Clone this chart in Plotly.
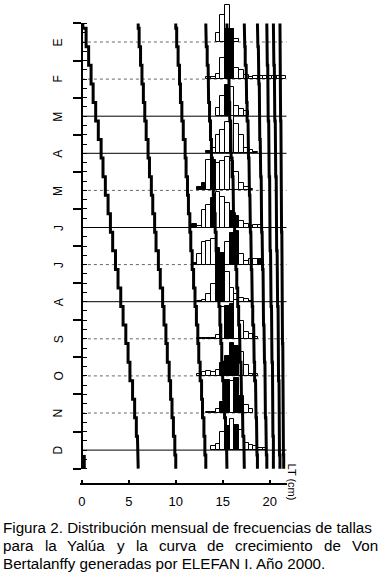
import plotly.graph_objects as go

# ---------------- data ----------------
month_letters = ['E', 'F', 'M', 'A', 'M', 'J', 'J', 'A', 'S', 'O', 'N', 'D']

# length classes (cm, class centres)
length_bins = [12.0, 12.5, 13.0, 13.5, 14.0, 14.5, 15.0, 15.5, 16.0, 16.5,
               17.0, 17.5, 18.0, 18.5, 19.0, 19.5, 20.0, 20.5, 21.0, 21.5]

# relative frequency (height in units of one month slot)
freq_ene = [0, 0, 0, 0, 0, 0.23, 0.73, 1.00, 0.35, 0.07, 0, 0, 0, 0, 0, 0, 0, 0, 0, 0]
freq_feb = [0, 0, 0, 0.05, 0.07, 0.14, 0.57, 1.35, 1.35, 0.31, 0.25, 0.12, 0.07, 0.09, 0.09, 0.09, 0.08, 0.08, 0.08, 0.08]
freq_mar = [0, 0, 0, 0, 0, 0.22, 0.54, 0.83, 0.80, 0.27, 0.20, 0.15, 0, 0, 0, 0, 0, 0, 0, 0]
freq_abr = [0, 0, 0, 0.06, 0.15, 0.50, 0.62, 0.85, 1.00, 0.80, 0.50, 0.15, 0.10, 0.04, 0, 0, 0, 0, 0, 0]
freq_may = [0, 0.08, 0.19, 0.82, 0.82, 0.75, 0.78, 0.90, 0.80, 0.50, 0.19, 0.10, 0.05, 0, 0, 0, 0, 0, 0, 0]
freq_jun = [0.10, 0.03, 0.48, 0.60, 0.80, 0.95, 0.82, 0.65, 0.45, 0.32, 0.18, 0.10, 0.03, 0.08, 0.07, 0, 0, 0, 0, 0]
freq_jul = [0.05, 0.28, 0.60, 0.64, 0.70, 0.46, 0.30, 0.60, 0.86, 0.90, 0.28, 0.10, 0.16, 0.16, 0.14, 0, 0, 0, 0, 0]
freq_ago = [0, 0.02, 0.05, 0.20, 0.47, 0.99, 1.10, 0.80, 0.36, 0.22, 0.09, 0.06, 0.02, 0, 0, 0, 0, 0, 0, 0]
freq_sep = [0, 0.03, 0.03, 0.03, 0.03, 0.10, 0.85, 0.88, 0.95, 1.05, 0.47, 0.18, 0.12, 0.05, 0, 0, 0, 0, 0, 0]
freq_oct = [0, 0.05, 0.10, 0.12, 0.10, 0.17, 0.35, 0.55, 0.88, 0.80, 0.65, 0.30, 0.05, 0.04, 0, 0, 0, 0, 0, 0]
freq_nov = [0, 0, 0, 0.03, 0.04, 0.10, 0.30, 0.90, 0.85, 0.95, 0.45, 0.22, 0.10, 0, 0, 0, 0, 0, 0, 0]
freq_dic = [0, 0, 0, 0, 0.10, 0.16, 0.49, 0.65, 0.85, 0.68, 0.55, 0.20, 0.15, 0.10, 0.07, 0.06, 0, 0, 0, 0]

# 1 = positive (black) class, 0 = white class
peak_ene = [0, 0, 0, 0, 0, 0, 0, 0, 1, 0, 0, 0, 0, 0, 0, 0, 0, 0, 0, 0]
peak_feb = [0, 0, 0, 0, 0, 0, 0, 1, 1, 0, 0, 0, 0, 0, 0, 0, 0, 0, 0, 0]
peak_mar = [0, 0, 0, 0, 0, 0, 0, 1, 0, 0, 0, 0, 0, 0, 0, 0, 0, 0, 0, 0]
peak_abr = [0, 0, 0, 1, 0, 0, 0, 0, 0, 0, 0, 0, 0, 0, 0, 0, 0, 0, 0, 0]
peak_may = [0, 1, 1, 0, 1, 0, 0, 0, 0, 0, 0, 0, 0, 0, 0, 0, 0, 0, 0, 0]
peak_jun = [1, 0, 0, 0, 1, 0, 0, 0, 1, 1, 0, 0, 0, 0, 0, 0, 0, 0, 0, 0]
peak_jul = [1, 0, 0, 0, 0, 1, 1, 0, 1, 1, 0, 0, 0, 0, 1, 0, 0, 0, 0, 0]
peak_ago = [0, 0, 0, 0, 0, 1, 1, 0, 0, 0, 0, 0, 0, 0, 0, 0, 0, 0, 0, 0]
peak_sep = [0, 0, 0, 0, 0, 0, 0, 1, 1, 0, 0, 0, 0, 0, 0, 0, 0, 0, 0, 0]
peak_oct = [0, 0, 0, 0, 0, 0, 1, 1, 1, 1, 0, 0, 0, 0, 0, 0, 0, 0, 0, 0]
peak_nov = [0, 0, 0, 0, 0, 0, 1, 1, 0, 1, 1, 0, 0, 0, 0, 0, 0, 0, 0, 0]
peak_dic = [0, 0, 0, 0, 0, 0, 0, 1, 0, 1, 0, 0, 0, 0, 0, 0, 0, 0, 0, 0]

monthly_freq = [freq_ene, freq_feb, freq_mar, freq_abr, freq_may, freq_jun,
                freq_jul, freq_ago, freq_sep, freq_oct, freq_nov, freq_dic]
monthly_peak = [peak_ene, peak_feb, peak_mar, peak_abr, peak_may, peak_jun,
                peak_jul, peak_ago, peak_sep, peak_oct, peak_nov, peak_dic]

# time (in months, 0 = January baseline) at which the growth curves step
step_times = [-0.5, -0.37, 0.13, 0.63, 1.13, 1.63, 2.13, 2.63, 3.13, 3.63, 4.13,
              4.63, 5.13, 5.63, 6.13, 6.63, 7.13, 7.63, 8.13, 8.63, 9.13, 9.63,
              10.13, 10.63, 11.13, 11.5]

# Von Bertalanffy growth curves (length in cm for each half-month step)
curve_a = [0.1, 0.45, 0.72, 0.98, 1.2, 1.47, 1.75, 2.05, 2.25, 2.5, 2.79, 3.04, 3.28,
           3.58, 3.85, 4.14, 4.39, 4.68, 4.92, 5.12, 5.4, 5.62, 5.8, 5.92, 6.0]
curve_b = [6.0, 6.1, 6.25, 6.4, 6.55, 6.7, 6.85, 7.05, 7.2, 7.4, 7.55, 7.75, 7.9,
           8.15, 8.35, 8.6, 8.75, 8.95, 9.1, 9.3, 9.45, 9.6, 9.75, 9.9, 10.0]
curve_c = [10.0, 10.1, 10.25, 10.4, 10.5, 10.65, 10.8, 11.0, 11.1, 11.25, 11.35, 11.5, 11.6,
           11.75, 11.9, 12.05, 12.2, 12.35, 12.45, 12.6, 12.75, 12.85, 13.0, 13.1, 13.2]
curve_d = [13.2, 13.25, 13.35, 13.45, 13.5, 13.6, 13.7, 13.8, 13.9, 14.0, 14.1, 14.2, 14.3,
           14.4, 14.5, 14.6, 14.7, 14.8, 14.9, 15.0, 15.1, 15.2, 15.3, 15.4, 15.45]
curve_e = [15.45, 15.5, 15.55, 15.65, 15.7, 15.75, 15.85, 15.9, 16.0, 16.1, 16.15, 16.25, 16.3,
           16.4, 16.5, 16.6, 16.7, 16.8, 16.85, 16.95, 17.0, 17.1, 17.15, 17.25, 17.3]
curve_f = [17.3, 17.35, 17.4, 17.5, 17.55, 17.6, 17.7, 17.75, 17.8, 17.85, 17.9, 17.95, 18.0,
           18.05, 18.1, 18.15, 18.2, 18.3, 18.35, 18.4, 18.5, 18.55, 18.6, 18.65, 18.7]
curve_g = [18.7, 18.75, 18.8, 18.85, 18.9, 18.9, 18.95, 19.0, 19.05, 19.1, 19.1, 19.15, 19.2,
           19.25, 19.3, 19.3, 19.35, 19.4, 19.45, 19.5, 19.5, 19.55, 19.6, 19.65, 19.7]
curve_h = [19.7, 19.7, 19.75, 19.8, 19.8, 19.85, 19.9, 19.9, 19.95, 20.0, 20.0, 20.05, 20.05,
           20.1, 20.1, 20.15, 20.2, 20.2, 20.25, 20.3, 20.3, 20.35, 20.35, 20.4, 20.4]
curve_i = [20.4, 20.45, 20.45, 20.5, 20.55, 20.55, 20.6, 20.6, 20.65, 20.7, 20.7, 20.75, 20.75,
           20.8, 20.8, 20.85, 20.9, 20.9, 20.95, 20.95, 21.0, 21.0, 21.05, 21.05, 21.1]
curve_j = [21.1, 21.1, 21.12, 21.15, 21.15, 21.17, 21.2, 21.2, 21.22, 21.25, 21.25, 21.27, 21.3,
           21.3, 21.32, 21.35, 21.35, 21.37, 21.4, 21.4, 21.42, 21.45, 21.45, 21.47, 21.5]
growth_curves = [curve_a, curve_b, curve_c, curve_d, curve_e,
                 curve_f, curve_g, curve_h, curve_i, curve_j]
# new cohort entering at the end of December
recruit_times = [11.13, 11.5]
recruit_curve = [0.2]

x_tick_vals = [0, 5, 10, 15, 20]
x_tick_text = ['0', '5', '10', '15', '20']

caption_1 = 'Figura 2. Distribución mensual de frecuencias de tallas'
caption_2 = 'para la Yalúa y la curva de crecimiento de Von'
caption_3 = 'Bertalanffy generadas por ELEFAN I. Año 2000.'

# ---------------- styles / layout ----------------
baseline_dash = ['dot', 'dot', 'solid', 'solid', 'dot', 'solid', 'dot', 'solid',
                 'dot', 'dot', 'dot', 'solid']
FONT = 'Liberation Sans'
W, H = 380, 584
PX_PER_CM = 9.35
X0_PX = 82.3
x_range = [-0.2, 21.85]
plot_left = X0_PX + x_range[0] * PX_PER_CM
plot_w = (x_range[1] - x_range[0]) * PX_PER_CM
margin_r = W - plot_left - plot_w
PX_PER_MONTH = 37.1
BASE_E_PX = 42.0
plot_top, plot_bottom = 0.0, 483.0
y_max = (BASE_E_PX - plot_top) / PX_PER_MONTH
y_min = -(plot_bottom - BASE_E_PX) / PX_PER_MONTH
y2_range = [-11.5, 0.5]
d_lo = (y2_range[0] - y_min) / (y_max - y_min)
d_hi = (y2_range[1] - y_min) / (y_max - y_min)


def paper_x(px):
    return (px - plot_left) / plot_w


def paper_y(py):
    return (plot_bottom - py) / (plot_bottom - plot_top)


fig = go.Figure()

# histograms
for m, (freqs, peaks) in enumerate(zip(monthly_freq, monthly_peak)):
    xs, hs, cols = [], [], []
    for c, f, p in zip(length_bins, freqs, peaks):
        if f > 0:
            xs.append(c)
            hs.append(f)
            cols.append('black' if p else 'white')
    fig.add_trace(go.Bar(x=xs, y=hs, base=-m, width=0.5,
                         marker=dict(color=cols, line=dict(color='black', width=1)),
                         showlegend=False, hoverinfo='skip'))


# growth curves
def step_xy(times, values):
    xs, ys = [], []
    for k, v in enumerate(values):
        xs += [v, v]
        ys += [-times[k], -times[k + 1]]
    return xs, ys


for cv in growth_curves:
    xs, ys = step_xy(step_times, cv)
    fig.add_trace(go.Scatter(x=xs, y=ys, mode='lines',
                             line=dict(color='black', width=3),
                             showlegend=False, hoverinfo='skip'))
xs, ys = step_xy(recruit_times, recruit_curve)
fig.add_trace(go.Scatter(x=xs, y=ys, mode='lines', line=dict(color='black', width=4),
                         showlegend=False, hoverinfo='skip'))

# dummy trace to carry the month axis
fig.add_trace(go.Scatter(x=[0], y=[0], yaxis='y2', mode='markers',
                         marker=dict(opacity=0), showlegend=False, hoverinfo='skip'))

# month baselines
for m, dash in enumerate(baseline_dash):
    fig.add_shape(type='line', xref='x', yref='y', x0=0, x1=21.8, y0=-m, y1=-m,
                  layer='below',
                  line=dict(color='black' if dash == 'solid' else '#666666',
                            width=1, dash=dash))

annotations = []
for m, lab in enumerate(month_letters):
    annotations.append(dict(x=paper_x(59), y=paper_y(BASE_E_PX + PX_PER_MONTH * m),
                            xref='paper', yref='paper', text=lab, showarrow=False,
                            textangle=-90, font=dict(family=FONT, size=12, color='black'),
                            xanchor='center', yanchor='middle'))
annotations.append(dict(x=paper_x(292), y=paper_y(482), xref='paper', yref='paper',
                        text='LT (cm)', showarrow=False, textangle=90,
                        font=dict(family=FONT, size=11, color='black'),
                        xanchor='center', yanchor='middle'))

CAP_FS = 15.2
annotations.append(dict(x=paper_x(2), y=paper_y(527), xref='paper', yref='paper',
                        text=caption_1, showarrow=False, xanchor='left', yanchor='middle',
                        font=dict(family=FONT, size=CAP_FS, color='black')))
annotations.append(dict(x=paper_x(2), y=paper_y(563), xref='paper', yref='paper',
                        text=caption_3, showarrow=False, xanchor='left', yanchor='middle',
                        font=dict(family=FONT, size=CAP_FS, color='black')))

# justified second caption line: spread words over the full width
arial_w = {'p': 556, 'a': 556, 'r': 333, 'l': 222, 'Y': 667, 'ú': 556, 'y': 500,
           'c': 500, 'u': 556, 'v': 500, 'd': 556, 'e': 556, 'i': 222, 'm': 833,
           'n': 556, 't': 278, 'o': 556, 'V': 667}
words = caption_2.split(' ')
widths = [sum(arial_w.get(ch, 556) for ch in w) * CAP_FS / 1000 for w in words]
left_px, right_px = 2, 376
gap = (right_px - left_px - sum(widths)) / (len(words) - 1)
cur = left_px
for w, wd in zip(words, widths):
    annotations.append(dict(x=paper_x(cur), y=paper_y(545), xref='paper', yref='paper',
                            text=w, showarrow=False, xanchor='left', yanchor='middle',
                            font=dict(family=FONT, size=CAP_FS, color='black')))
    cur += wd + gap

fig.update_layout(
    width=W, height=H,
    margin=dict(l=plot_left, r=margin_r, t=plot_top, b=H - plot_bottom, pad=0,
                autoexpand=False),
    paper_bgcolor='white', plot_bgcolor='rgba(0,0,0,0)',
    barmode='overlay', bargap=0,
    showlegend=False,
    annotations=annotations,
    xaxis=dict(range=x_range, showgrid=False, zeroline=False, showline=True,
               linecolor='black', linewidth=1.5, ticks='inside', ticklen=3,
               tickwidth=2, tickcolor='black', tickvals=x_tick_vals, ticktext=x_tick_text,
               tickfont=dict(family=FONT, size=13, color='black'), ticklabelstandoff=6,
               fixedrange=True, automargin=False),
    yaxis=dict(range=[y_min, y_max], visible=False, fixedrange=True, automargin=False),
    yaxis2=dict(range=y2_range, domain=[d_lo, d_hi], anchor='free',
                position=paper_x(X0_PX + 0.3), side='left', automargin=False,
                showgrid=False, zeroline=False, showline=True, linecolor='black',
                linewidth=2, ticks='outside', ticklen=8, tickwidth=1.5, tickcolor='black',
                tick0=0.5, dtick=1, showticklabels=False, fixedrange=True,
                minor=dict(ticks='inside', ticklen=4, tickwidth=1, tickcolor='black',
                           dtick=0.25, tick0=0.5, showgrid=False)),
)

fig.write_html('out.html', config={'displayModeBar': False},
               post_script="document.body.style.margin='0';")
